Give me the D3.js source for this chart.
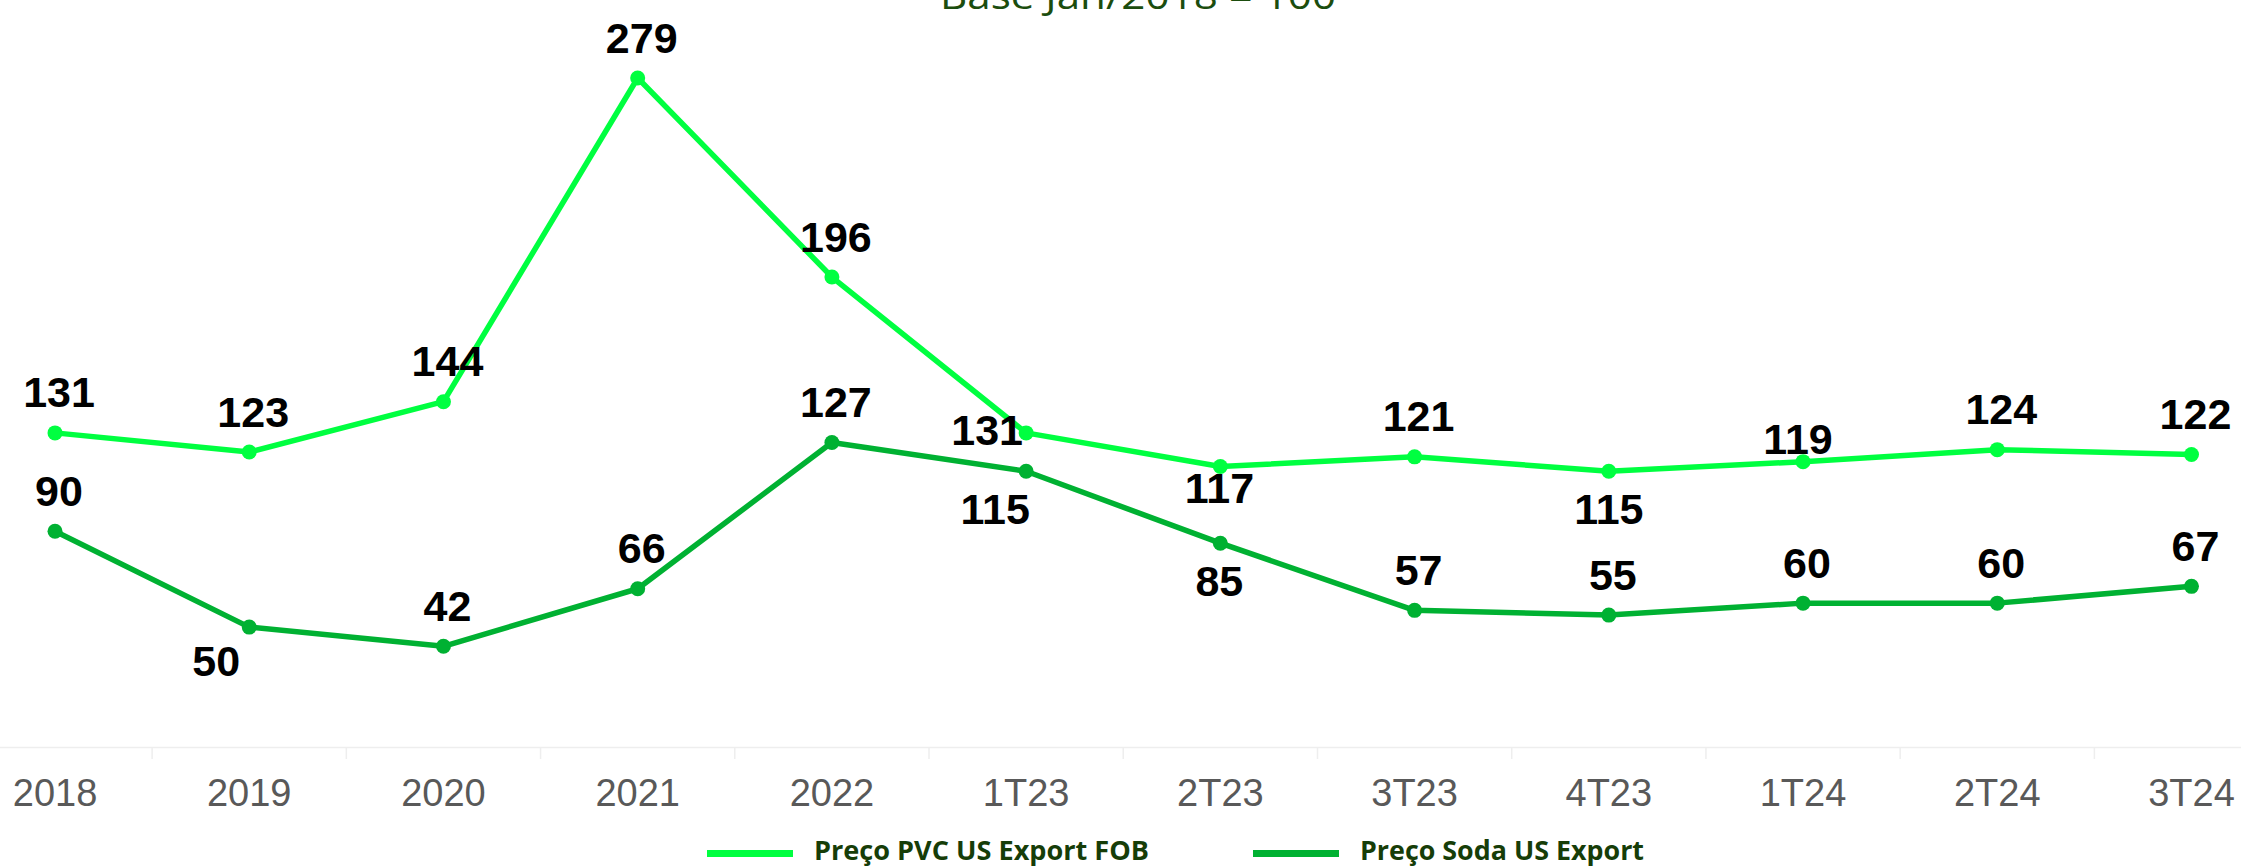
<!DOCTYPE html>
<html>
<head>
<meta charset="utf-8">
<script src="https://cdn.jsdelivr.net/npm/d3@7"></script>
<style>
  body { margin: 0; background: #fff; }
  svg { display: block; }
</style>
</head>
<body>
<div id="chartArea"></div>
<script>
const categories = ['2018', '2019', '2020', '2021', '2022', '1T23', '2T23', '3T23', '4T23', '1T24', '2T24', '3T24'];
const pvcValues = [131, 123, 144, 279, 196, 131, 117, 121, 115, 119, 124, 122];
const sodaValues = [90, 50, 42, 66, 127, 115, 85, 57, 55, 60, 60, 67];
const seriesNames = ['Preço PVC US Export FOB', 'Preço Soda US Export'];
const titleText = 'Base Jan/2018 = 100';

const width = 2241;
const height = 868;
const colors = ['#00ff40', '#00b132'];

const series = [
  { name: seriesNames[0], values: pvcValues, color: colors[0] },
  { name: seriesNames[1], values: sodaValues, color: colors[1] }
];

// label nudges (dx, baseline dy) where the default "above" spot is not used
const labelShift = [
  { 5: [-39, 12.5], 6: [-1, 36.5], 8: [0, 52.5], 9: [-5, -8] },
  { 1: [-33, 48.5], 5: [-31, 52.5], 6: [-1, 52.5] }
];

const svg = d3.select('#chartArea').append('svg')
  .attr('width', width)
  .attr('height', height);

const x = d3.scaleBand().domain(categories).range([-42.1, 2288.6]).padding(0);
const cx = (d) => x(d) + x.bandwidth() / 2;
const y = d3.scaleLinear().domain([0, 279]).range([747, 78]);

// title (cropped at top like the original)
svg.append('text')
  .attr('x', 1138)
  .attr('y', 9)
  .attr('text-anchor', 'middle')
  .attr('textLength', 396)
  .attr('lengthAdjust', 'spacingAndGlyphs')
  .style('font-family', '"Open Sans", sans-serif')
  .style('font-size', '36px')
  .style('fill', '#1b4d0e')
  .text(titleText);

// x axis
const xAxis = svg.append('g')
  .attr('transform', `translate(0,${y(0)})`)
  .call(d3.axisBottom(x).tickSize(0).tickSizeOuter(0));
xAxis.select('.domain').attr('stroke', '#eeeeee').attr('stroke-width', 1.5);
xAxis.selectAll('text')
  .attr('y', 59)
  .attr('dy', null)
  .style('font-family', '"Liberation Sans", Arial, sans-serif')
  .style('font-size', '38px')
  .style('fill', '#595959');

const bounds = categories.map((c) => x(c)).concat([x.range()[1]]);
xAxis.selectAll('.bound')
  .data(bounds)
  .enter()
  .append('line')
  .attr('class', 'bound')
  .attr('x1', (d) => d)
  .attr('x2', (d) => d)
  .attr('y1', 0)
  .attr('y2', 12)
  .attr('stroke', '#eeeeee')
  .attr('stroke-width', 1.5);

const line = d3.line()
  .x((d, i) => cx(categories[i]))
  .y((d) => y(d));

series.forEach((s) => {
  const g = svg.append('g');
  g.append('path')
    .datum(s.values)
    .attr('fill', 'none')
    .attr('stroke', s.color)
    .attr('stroke-width', 5.5)
    .attr('stroke-linejoin', 'round')
    .attr('d', line);

  g.selectAll('circle')
    .data(s.values)
    .enter()
    .append('circle')
    .attr('cx', (d, i) => cx(categories[i]))
    .attr('cy', (d) => y(d))
    .attr('r', 7.5)
    .attr('fill', s.color);
});

// data labels drawn after both lines so they sit on top
series.forEach((s, si) => {
  svg.append('g').selectAll('text')
    .data(s.values)
    .enter()
    .append('text')
    .attr('x', (d, i) => cx(categories[i]) + (labelShift[si][i] ? labelShift[si][i][0] : 4))
    .attr('y', (d, i) => y(d) + (labelShift[si][i] ? labelShift[si][i][1] : -25.5))
    .attr('text-anchor', 'middle')
    .style('font-family', '"Liberation Sans", Arial, sans-serif')
    .style('font-size', '43px')
    .style('font-weight', 'bold')
    .style('fill', '#000')
    .text((d) => d);
});

// legend
const legendX = [707, 1253];
const legendW = [335, 284];
const legend = svg.append('g').selectAll('g')
  .data(series)
  .enter()
  .append('g')
  .attr('transform', (d, i) => `translate(${legendX[i]},853.5)`);

legend.append('line')
  .attr('x1', 0)
  .attr('x2', 86)
  .attr('y1', 0)
  .attr('y2', 0)
  .attr('stroke', (d) => d.color)
  .attr('stroke-width', 7);

legend.append('text')
  .attr('x', 107)
  .attr('y', 6.5)
  .attr('textLength', (d, i) => legendW[i])
  .attr('lengthAdjust', 'spacingAndGlyphs')
  .style('font-family', '"Open Sans", sans-serif')
  .style('font-size', '26px')
  .style('font-weight', 'bold')
  .style('fill', '#163d08')
  .text((d) => d.name);
</script>
</body>
</html>
